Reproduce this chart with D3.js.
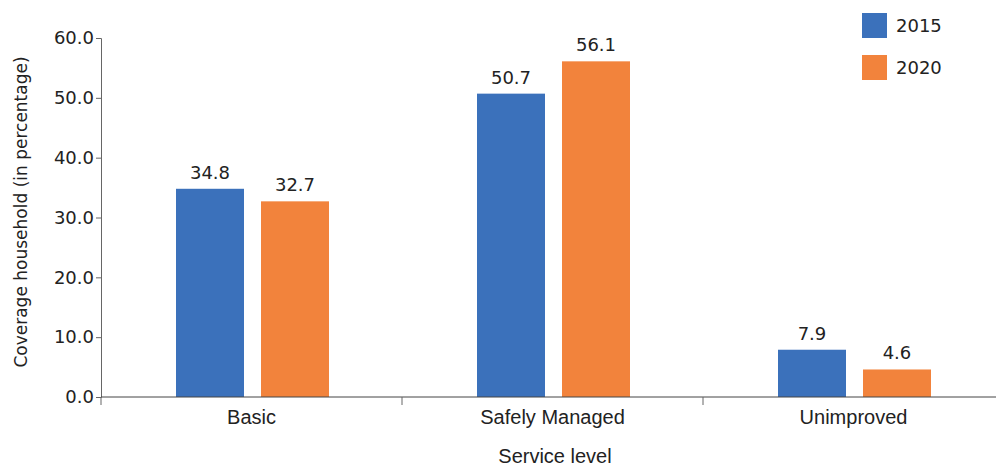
<!DOCTYPE html>
<html>
<head>
<meta charset="utf-8">
<script src="https://cdn.jsdelivr.net/npm/d3@7"></script>
<style>
  body { margin: 0; background: #fff; }
</style>
</head>
<body>
<svg id="chart" width="996" height="468"></svg>
<script>
const categories = ["Basic", "Safely Managed", "Unimproved"];
const years = ["2015", "2020"];
const values2015 = [34.8, 50.7, 7.9];
const values2020 = [32.7, 56.1, 4.6];
const yTicks = [0, 10, 20, 30, 40, 50, 60];

const colors = { "2015": "#3b71bb", "2020": "#f2833c" };

const svg = d3.select("#chart");

const x = d3.scaleBand()
    .domain(categories)
    .range([101, 1004])
    .padding(0);

const xInner = d3.scaleBand()
    .domain(years)
    .range([75, 228])
    .paddingInner(0.2);

const y = d3.scaleLinear()
    .domain([0, 60])
    .range([397, 38]);

// data rows
const rows = [];
categories.forEach((c, i) => {
    rows.push({ cat: c, year: "2015", v: values2015[i] });
    rows.push({ cat: c, year: "2020", v: values2020[i] });
});

// bars
svg.append("g").selectAll("rect")
    .data(rows)
    .join("rect")
    .attr("x", d => x(d.cat) + xInner(d.year))
    .attr("y", d => y(d.v))
    .attr("width", xInner.bandwidth())
    .attr("height", d => y(0) - y(d.v))
    .attr("fill", d => colors[d.year]);

// value labels
svg.append("g").selectAll("text")
    .data(rows)
    .join("text")
    .attr("x", d => x(d.cat) + xInner(d.year) + xInner.bandwidth() / 2)
    .attr("y", d => y(d.v) - 10)
    .attr("text-anchor", "middle")
    .style("font-family", "DejaVu Sans, sans-serif")
    .style("font-size", "18px")
    .attr("fill", "#222")
    .text(d => d.v.toFixed(1));

// y axis
const yAxis = svg.append("g")
    .attr("transform", "translate(101,0)")
    .call(d3.axisLeft(y).tickValues(yTicks).tickFormat(d3.format(".1f")).tickSize(5).tickPadding(2));
yAxis.selectAll("text")
    .style("font-family", "DejaVu Sans, sans-serif")
    .style("font-size", "18px")
    .attr("fill", "#222");
yAxis.selectAll("line, path").attr("stroke", "#666");

// x axis
const xAxis = svg.append("g")
    .attr("transform", "translate(0,397)")
    .call(d3.axisBottom(x).tickSize(0).tickPadding(13));
xAxis.select(".domain").attr("stroke", "#444").attr("d", "M101,0H1004");
xAxis.selectAll("text")
    .style("font-family", "Liberation Sans Narrow, Liberation Sans, sans-serif")
    .style("font-size", "20px")
    .attr("fill", "#222");
// band boundary ticks
xAxis.append("g").selectAll("line")
    .data(categories)
    .join("line")
    .attr("x1", d => x(d))
    .attr("x2", d => x(d))
    .attr("y1", 0)
    .attr("y2", 8)
    .attr("stroke", "#666");

// axis titles
svg.append("text")
    .attr("x", 555)
    .attr("y", 463)
    .attr("text-anchor", "middle")
    .style("font-family", "Liberation Sans Narrow, Liberation Sans, sans-serif")
    .style("font-size", "20px")
    .attr("fill", "#222")
    .text("Service level");

svg.append("text")
    .attr("transform", "translate(27,212) rotate(-90)")
    .attr("text-anchor", "middle")
    .style("font-family", "DejaVu Sans, sans-serif")
    .style("font-size", "17px")
    .attr("fill", "#222")
    .text("Coverage household (in percentage)");

// legend
const legend = svg.append("g").selectAll("g")
    .data(years)
    .join("g")
    .attr("transform", (d, i) => `translate(862,${13 + i * 42})`);
legend.append("rect")
    .attr("width", 25)
    .attr("height", 25)
    .attr("fill", d => colors[d]);
legend.append("text")
    .attr("x", 34)
    .attr("y", 19)
    .style("font-family", "DejaVu Sans, sans-serif")
    .style("font-size", "18px")
    .attr("fill", "#222")
    .text(d => d);
</script>
</body>
</html>
